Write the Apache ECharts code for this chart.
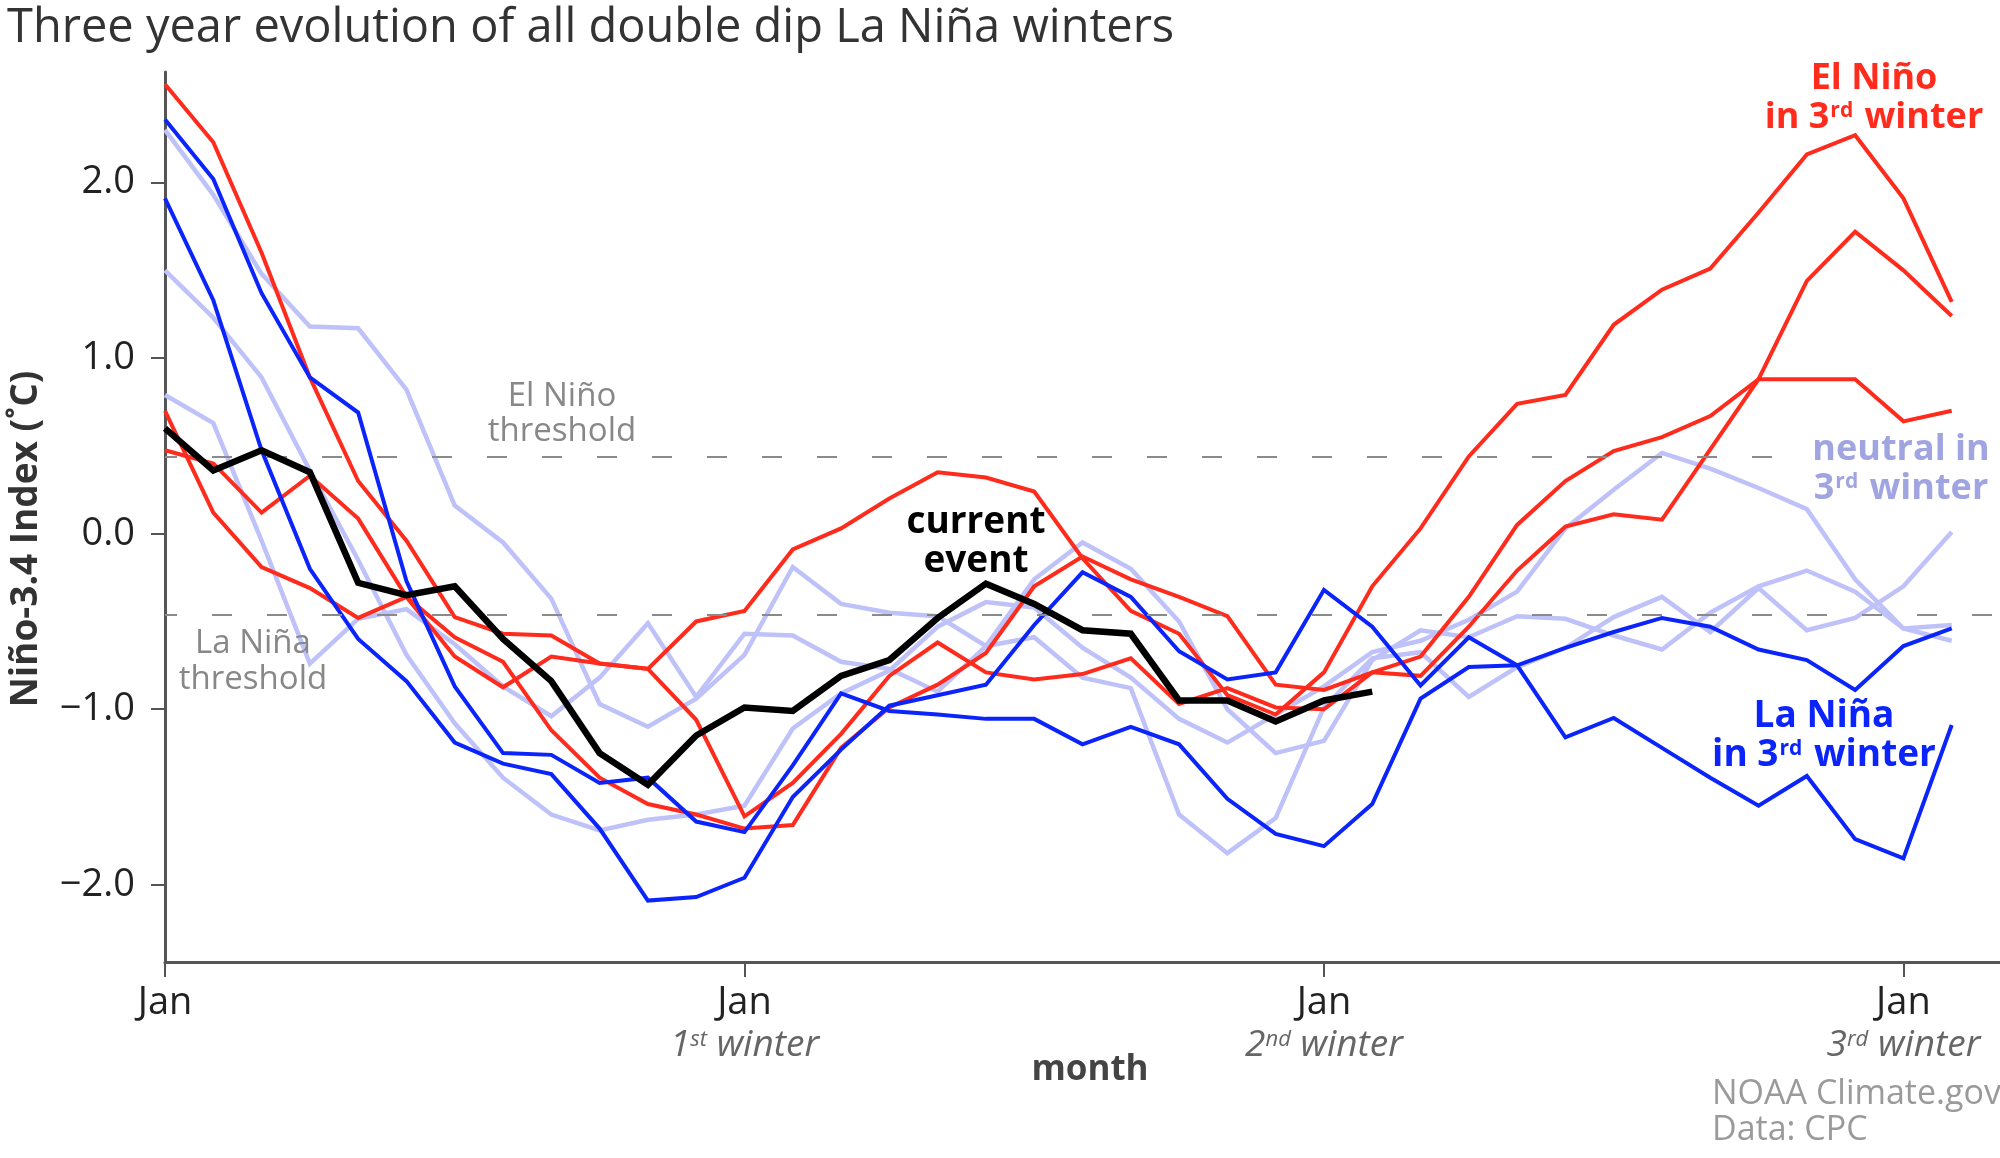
<!DOCTYPE html>
<html lang="en">
<head>
<meta charset="UTF-8">
<title>Three year evolution of all double dip La Niña winters</title>
<script src="https://cdn.jsdelivr.net/npm/echarts@6/dist/echarts.min.js"></script>
<style>
    html, body {margin:0; padding:0; background:#fff;}
    #chart {width:2000px; height:1158px;}
</style>
</head>
<body>
<div id="chart"></div>
<script>
// Niño-3.4 index, one value per month, month 0 = Jan of the year before the 1st winter
const elNinoA = [2.56, 2.23, 1.60, 0.89, 0.30, -0.04, -0.475, -0.57, -0.58, -0.74, -0.77, -0.50, -0.44, -0.09, 0.03, 0.20, 0.35, 0.32, 0.24, -0.14, -0.44, -0.57, -0.92, -1.03, -0.79, -0.30, 0.03, 0.44, 0.74, 0.79, 1.19, 1.39, 1.51, 1.83, 2.16, 2.27, 1.91, 1.32];
const elNinoB = [0.475, 0.40, 0.12, 0.33, 0.086, -0.36, -0.59, -0.73, -1.12, -1.39, -1.54, -1.60, -1.68, -1.66, -1.22, -0.99, -0.86, -0.68, -0.30, -0.13, -0.26, -0.36, -0.47, -0.86, -0.89, -0.79, -0.70, -0.36, 0.05, 0.30, 0.47, 0.55, 0.67, 0.88, 0.88, 0.88, 0.64, 0.70];
const elNinoC = [0.70, 0.12, -0.19, -0.31, -0.48, -0.36, -0.70, -0.875, -0.70, -0.74, -0.77, -1.06, -1.61, -1.42, -1.14, -0.81, -0.62, -0.79, -0.83, -0.80, -0.71, -0.97, -0.88, -0.99, -1.00, -0.79, -0.81, -0.53, -0.21, 0.04, 0.11, 0.08, 0.48, 0.88, 1.44, 1.72, 1.50, 1.24];
const laNinaA = [2.36, 2.02, 1.37, 0.89, 0.69, -0.27, -0.87, -1.25, -1.26, -1.42, -1.39, -1.64, -1.70, -1.32, -0.91, -1.01, -1.03, -1.055, -1.055, -1.20, -1.10, -1.20, -1.51, -1.71, -1.78, -1.54, -0.94, -0.76, -0.75, -0.65, -0.56, -0.48, -0.53, -0.66, -0.72, -0.89, -0.64, -0.54];
const laNinaB = [1.91, 1.33, 0.475, -0.20, -0.60, -0.84, -1.19, -1.31, -1.37, -1.68, -2.09, -2.07, -1.96, -1.50, -1.23, -0.98, -0.92, -0.86, -0.52, -0.22, -0.36, -0.67, -0.83, -0.79, -0.32, -0.53, -0.865, -0.59, -0.75, -1.16, -1.05, -1.22, -1.39, -1.55, -1.38, -1.74, -1.85, -1.09];
const neutralA = [2.30, 1.93, 1.48, 1.18, 1.17, 0.82, 0.16, -0.05, -0.37, -0.97, -1.10, -0.94, -0.69, -0.19, -0.40, -0.45, -0.47, -0.64, -0.59, -0.82, -0.88, -1.60, -1.82, -1.62, -0.99, -0.71, -0.675, -0.93, -0.76, -0.65, -0.475, -0.36, -0.56, -0.31, -0.55, -0.48, -0.30, 0.01];
const neutralB = [1.50, 1.23, 0.89, 0.36, -0.15, -0.69, -1.08, -1.39, -1.60, -1.69, -1.63, -1.60, -1.55, -1.11, -0.91, -0.78, -0.53, -0.39, -0.42, -0.65, -0.82, -1.055, -1.19, -1.03, -0.87, -0.675, -0.61, -0.49, -0.33, 0.03, 0.25, 0.46, 0.37, 0.26, 0.14, -0.26, -0.54, -0.61];
const neutralC = [0.79, 0.63, -0.04, -0.74, -0.485, -0.43, -0.63, -0.87, -1.04, -0.82, -0.51, -0.93, -0.57, -0.58, -0.73, -0.77, -0.90, -0.64, -0.26, -0.05, -0.20, -0.50, -1.00, -1.25, -1.18, -0.72, -0.55, -0.59, -0.47, -0.485, -0.58, -0.66, -0.45, -0.30, -0.21, -0.33, -0.54, -0.52];
const currentEvent = [0.60, 0.36, 0.475, 0.35, -0.28, -0.35, -0.30, -0.60, -0.84, -1.25, -1.43, -1.15, -0.99, -1.01, -0.81, -0.72, -0.48, -0.285, -0.40, -0.55, -0.57, -0.95, -0.95, -1.07, -0.95, -0.90];

// thresholds as drawn
const elNinoThreshold = 0.44;
const laNinaThreshold = -0.46;

// axis ticks
const janMonths = [0, 12, 24, 36];
const winterNums = ['', '1', '2', '3'];
const winterSufs = ['', 'st', 'nd', 'rd'];
const yTicks = [-2, -1, 0, 1, 2];

const FONT = '"Open Sans", "DejaVu Sans", sans-serif';
const RED = '#ff2b1c', BLUE = '#0b24fb', LIGHT = '#bec2f8', NEUTRAL_TXT = '#a0a4e0';

window.onload = function () {
    const chart = echarts.init(document.getElementById('chart'));
    const pts = arr => arr.map((v, i) => [i, v]);

    function line(data, color, width, z) {
        return {
            type: 'line', data: pts(data), symbol: 'none', z: z,
            lineStyle: {color: color, width: width, join: 'miter'},
            silent: true
        };
    }

    const series = [
        {
            type: 'line', data: [], symbol: 'none', z: 1,
            markLine: {
                silent: true, symbol: 'none', animation: false,
                label: {show: false},
                lineStyle: {color: '#8a8a8a', width: 2, type: [20, 35], dashOffset: 8},
                data: [
                    [{coord: [0, elNinoThreshold]}, {coord: [33.35, elNinoThreshold]}],
                    [{coord: [0, laNinaThreshold]}, {coord: [38, laNinaThreshold]}]
                ]
            }
        },
        line(neutralA, LIGHT, 4.5, 2),
        line(neutralB, LIGHT, 4.5, 2),
        line(neutralC, LIGHT, 4.5, 2),
        line(elNinoA, RED, 4, 3),
        line(elNinoB, RED, 4, 3),
        line(elNinoC, RED, 4, 3),
        line(laNinaA, BLUE, 4, 4),
        line(laNinaB, BLUE, 4, 4),
        line(currentEvent, '#000', 6.5, 5)
    ];

    // graphic (zrender) rich styles take fill, not color
    const bold = (c, s) => ({fontFamily: FONT, fontWeight: 'bold', fontSize: s, fill: c, lineHeight: 39});
    const supr = c => ({fontFamily: FONT, fontWeight: 'bold', fontSize: 21, fill: c, lineHeight: 39, verticalAlign: 'top', padding: [3, 2, 0, 1]});

    function label(x, y, text, rich) {
        return {
            type: 'text', x: x, y: y, silent: true, z: 20,
            style: {text: text, rich: rich, align: 'center', verticalAlign: 'middle'}
        };
    }

    const options = {
        animation: false,
        backgroundColor: '#fff',
        textStyle: {fontFamily: FONT},
        title: {
            text: 'Three year evolution of all double dip La Niña winters',
            left: 2, top: 0,
            textStyle: {fontFamily: FONT, fontWeight: 'normal', fontSize: 47, color: '#333'}
        },
        grid: {left: 165, right: 0, top: 72, bottom: 196},
        xAxis: {
            type: 'value', min: 0, max: 38,
            splitLine: {show: false},
            axisLine: {onZero: false, lineStyle: {color: '#555', width: 3}},
            axisTick: {customValues: janMonths, length: 15, lineStyle: {color: '#555', width: 2}},
            axisLabel: {
                customValues: janMonths, margin: 20,
                fontFamily: FONT, fontSize: 38, color: '#222', lineHeight: 42,
                formatter: v => {
                    const k = v / 12;
                    if (k === 0) return 'Jan';
                    return 'Jan\n{it|' + winterNums[k] + '}{sup|' + winterSufs[k] + '}{it| winter}';
                },
                rich: {
                    it: {fontFamily: FONT, fontStyle: 'italic', fontSize: 37, color: '#666', lineHeight: 42},
                    sup: {fontFamily: FONT, fontStyle: 'italic', fontSize: 22, color: '#666', lineHeight: 42, verticalAlign: 'top', padding: [5, 0, 0, 0]}
                }
            }
        },
        yAxis: {
            type: 'value', min: -2.44, max: 2.63,
            splitLine: {show: false},
            axisLine: {show: true, lineStyle: {color: '#555', width: 3}},
            axisTick: {show: true, customValues: yTicks, length: 14, lineStyle: {color: '#555', width: 2}},
            axisLabel: {
                customValues: yTicks, margin: 30,
                fontFamily: FONT, fontSize: 38, color: '#222',
                formatter: v => (v < 0 ? '\u2212' : '') + Math.abs(v).toFixed(1)
            }
        },
        graphic: [
            {
                type: 'text', x: 26, y: 539, rotation: Math.PI / 2, silent: true,
                style: {text: 'Niño-3.4 Index (˚C)', fontFamily: FONT, fontWeight: 'bold', fontSize: 37,
                    fill: '#333', align: 'center', verticalAlign: 'middle'}
            },
            {
                type: 'text', x: 1090, y: 1070, silent: true,
                style: {text: 'month', fontFamily: FONT, fontWeight: 'bold', fontSize: 35,
                    fill: '#444', align: 'center', verticalAlign: 'middle'}
            },
            {
                type: 'text', x: 1712, y: 1112, silent: true,
                style: {text: 'NOAA Climate.gov\nData: CPC', fontFamily: FONT, fontSize: 34, lineHeight: 36,
                    fill: '#9a9a9a', align: 'left', verticalAlign: 'middle'}
            },
            label(562, 414, '{g|El Niño}\n{g|threshold}', {g: {fontFamily: FONT, fontSize: 33, fill: '#888', lineHeight: 35}}),
            label(253, 662, '{g|La Niña}\n{g|threshold}', {g: {fontFamily: FONT, fontSize: 33, fill: '#888', lineHeight: 36}}),
            label(976, 542, '{b|current}\n{b|event}', {b: bold('#000', 37)}),
            label(1874, 98, '{b|El Niño}\n{b|in 3}{s|rd}{b| winter}', {b: bold(RED, 36), s: supr(RED)}),
            label(1901, 469, '{b|neutral in}\n{b|3}{s|rd}{b| winter}', {b: bold(NEUTRAL_TXT, 36), s: supr(NEUTRAL_TXT)}),
            label(1824, 736, '{b|La Niña}\n{b|in 3}{s|rd}{b| winter}', {b: bold(BLUE, 37), s: supr(BLUE)})
        ],
        series: series
    };

    chart.setOption(options);
};
</script>
</body>
</html>
